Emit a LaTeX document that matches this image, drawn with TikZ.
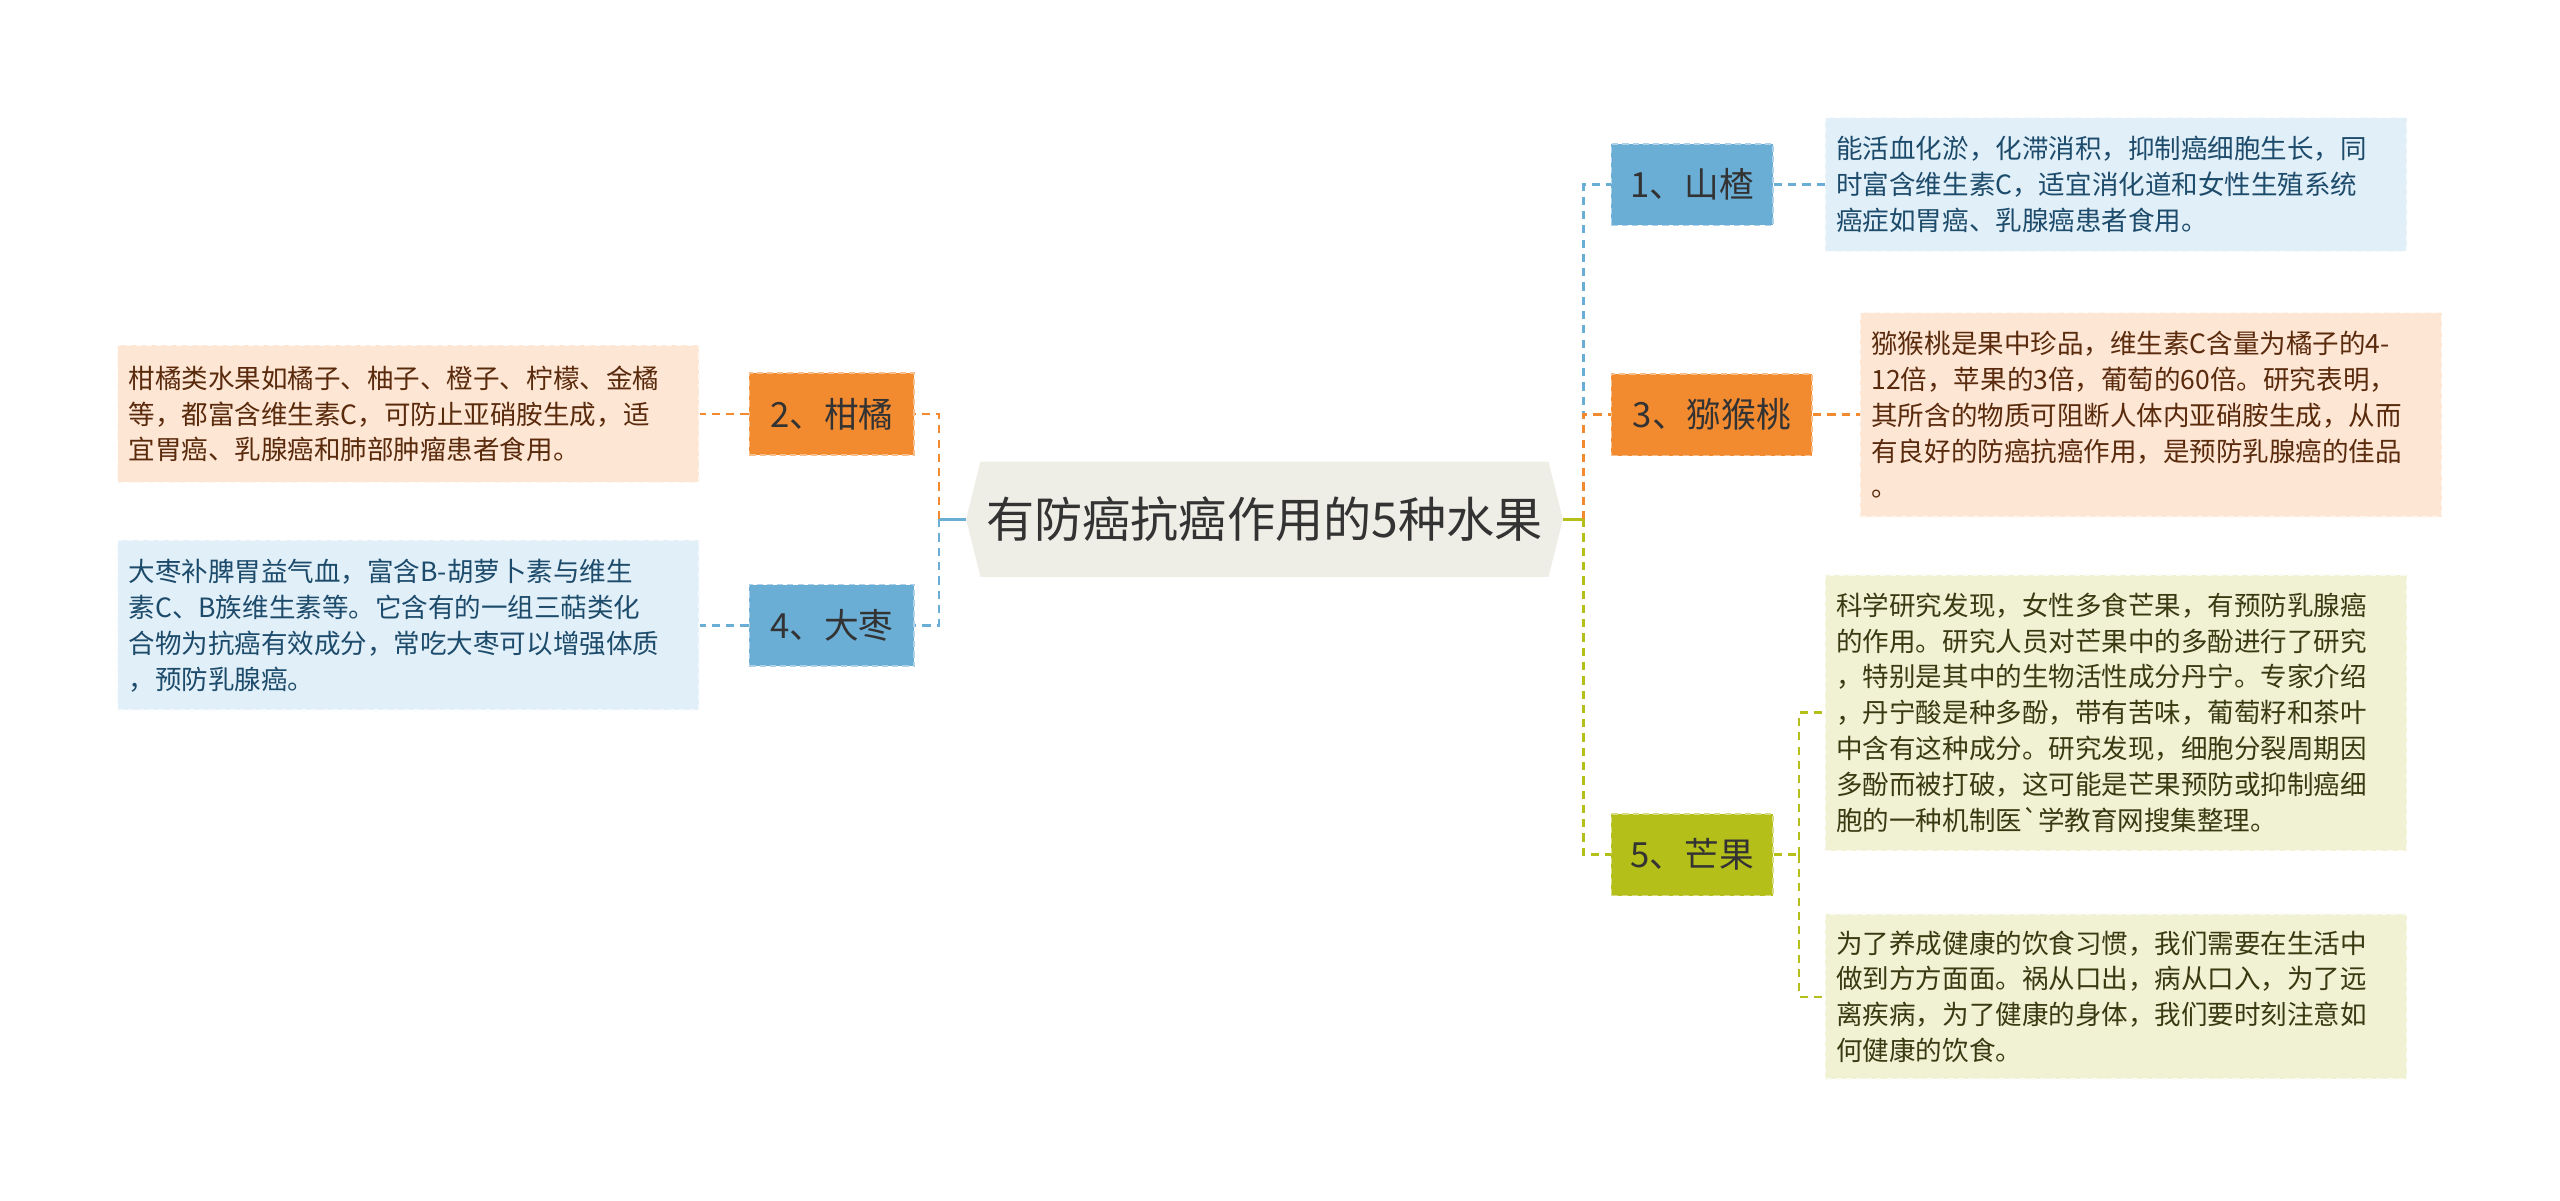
\documentclass[tikz,border=0pt]{standalone}
\usepackage{fontspec}
\setmainfont{Noto Sans CJK SC}[Ligatures=TeXOff]
\usetikzlibrary{backgrounds}

\definecolor{rootfill}{HTML}{EEEEE6}
\definecolor{rootline}{HTML}{333333}
\definecolor{hawblue}{HTML}{6AAED6}
\definecolor{citorange}{HTML}{F28A30}
\definecolor{mangreen}{HTML}{B5BF1A}
\definecolor{leafblue}{HTML}{E1EFF8}
\definecolor{leaforange}{HTML}{FDE6D4}
\definecolor{leafgreen}{HTML}{F0F2D3}
\definecolor{inkblue}{HTML}{1D4B6B}
\definecolor{inkorange}{HTML}{5A2A0C}
\definecolor{inkgreen}{HTML}{3A3A12}

\tikzset{
  kid/.style={minimum height=40pt, inner sep=0pt, text=rootline,
    font=\fontsize{17}{17}\selectfont,
    draw=#1!55!white, fill=#1, dash pattern=on 3pt off 2pt, line width=.8pt},
  leaf/.style={minimum width=284.8pt, text width=274pt, inner xsep=5.4pt,
    inner ysep=0pt, align=left, font=\fontsize{13}{17.6}\selectfont,
    draw=white!70!#1, fill=#1, dash pattern=on 3pt off 2pt, line width=.8pt},
  link/.style={draw=#1, line width=1.2pt, dash pattern=on 4pt off 3pt},
  stem/.style={draw=#1, line width=1.6pt}
}

\begin{document}
\begin{tikzpicture}[x=0.8pt, y=-0.8pt]
\useasboundingbox (0,0) rectangle (1568,735);

% root
\node[minimum width=292pt, minimum height=56pt, inner sep=0pt, text=rootline,
  font=\fontsize{23.6}{23.6}\selectfont] (root) at (774.5,318) {有防癌抗癌作用的5种水果};
\begin{scope}[on background layer]
\fill[rootfill] (root.west) -- ([xshift=7pt]root.north west)
  -- ([xshift=-7pt]root.north east) -- (root.east)
  -- ([xshift=-7pt]root.south east) -- ([xshift=7pt]root.south west) -- cycle;
\end{scope}

% first level
\node[kid=hawblue, minimum width=79.2pt] (haw) at (1036.5,113) {1、山楂};
\node[kid=citorange, minimum width=80.8pt] (cit) at (509.5,253.5) {2、柑橘};
\node[kid=citorange, minimum width=98.4pt] (kiwi) at (1048.5,254) {3、猕猴桃};
\node[kid=hawblue, minimum width=80.8pt] (jujube) at (509.5,383) {4、大枣};
\node[kid=mangreen, minimum width=79.2pt] (mango) at (1036.5,523.5) {5、芒果};

% leaves
\node[leaf=leafblue, text=inkblue, minimum height=65.6pt] (hawtxt) at (1296,113)
  {能活血化淤，化滞消积，抑制癌细胞生长，同\\
   时富含维生素C，适宜消化道和女性生殖系统\\
   癌症如胃癌、乳腺癌患者食用。};
\node[leaf=leaforange, text=inkorange, minimum height=100pt] (kiwitxt) at (1317.5,254)
  {猕猴桃是果中珍品，维生素C含量为橘子的4-\\
   12倍，苹果的3倍，葡萄的60倍。研究表明，\\
   其所含的物质可阻断人体内亚硝胺生成，从而\\
   有良好的防癌抗癌作用，是预防乳腺癌的佳品\\
   。};
\node[leaf=leafgreen, text=inkgreen, minimum height=135.2pt] (mangotxt) at (1296,436.5)
  {科学研究发现，女性多食芒果，有预防乳腺癌\\
   的作用。研究人员对芒果中的多酚进行了研究\\
   ，特别是其中的生物活性成分丹宁。专家介绍\\
   ，丹宁酸是种多酚，带有苦味，葡萄籽和茶叶\\
   中含有这种成分。研究发现，细胞分裂周期因\\
   多酚而被打破，这可能是芒果预防或抑制癌细\\
   胞的一种机制医\symbol{96}学教育网搜集整理。};
\node[leaf=leafgreen, text=inkgreen, minimum height=80.8pt] (habittxt) at (1296,610.5)
  {为了养成健康的饮食习惯，我们需要在生活中\\
   做到方方面面。祸从口出，病从口入，为了远\\
   离疾病，为了健康的身体，我们要时刻注意如\\
   何健康的饮食。};
\node[leaf=leaforange, text=inkorange, minimum height=67.2pt] (cittxt) at (250,253.5)
  {柑橘类水果如橘子、柚子、橙子、柠檬、金橘\\
   等，都富含维生素C，可防止亚硝胺生成，适\\
   宜胃癌、乳腺癌和肺部肿瘤患者食用。};
\node[leaf=leafblue, text=inkblue, minimum height=83.2pt] (jujubetxt) at (250,383)
  {大枣补脾胃益气血，富含B-胡萝卜素与维生\\
   素C、B族维生素等。它含有的一组三萜类化\\
   合物为抗癌有效成分，常吃大枣可以增强体质\\
   ，预防乳腺癌。};

% joints
\coordinate (rj) at (970,318);
\coordinate (lj) at (575,318);
\coordinate (mj) at (1102,523.5);

\draw[stem=mangreen] (root.east) -- (rj);
\draw[stem=hawblue] (root.west) -- (lj);

\draw[link=hawblue] (rj) |- (haw.west);
\draw[link=citorange] (rj) |- (kiwi.west);
\draw[link=mangreen] (rj) |- (mango.west);
\draw[link=citorange] (lj) |- (cit.east);
\draw[link=hawblue] (lj) |- (jujube.east);

\draw[link=hawblue] (haw.east) -- (hawtxt.west);
\draw[link=citorange] (kiwi.east) -- (kiwitxt.west);
\draw[link=citorange] (cit.west) -- (cittxt.east);
\draw[link=hawblue] (jujube.west) -- (jujubetxt.east);
\draw[link=mangreen] (mango.east) -- (mj);
\draw[link=mangreen] (mj) |- (mangotxt.west);
\draw[link=mangreen] (mj) |- (habittxt.west);
\end{tikzpicture}
\end{document}
